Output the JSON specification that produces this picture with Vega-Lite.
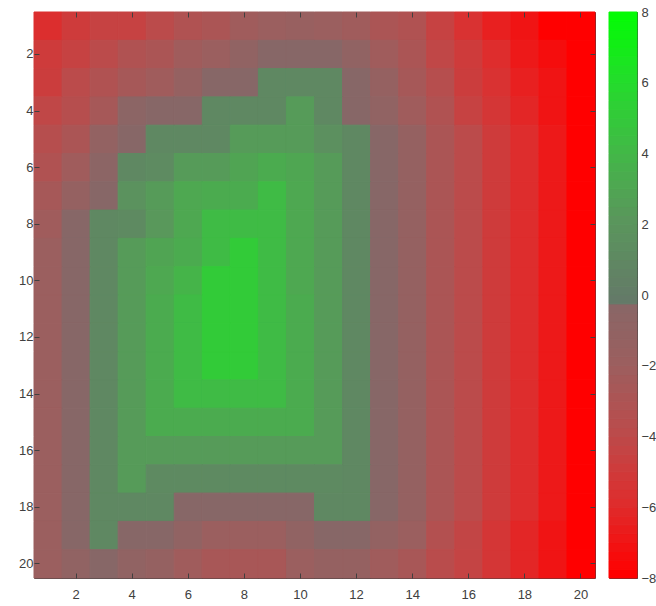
{
"$schema": "https://vega.github.io/schema/vega-lite/v6.json",
"padding": {"left": 18, "top": 5, "right": 0, "bottom": 0},
"background": "white",
"spacing": 12,
"config": {
  "view": {"stroke": "#404040", "strokeWidth": 1},
  "axis": {"domain": false, "grid": false, "ticks": true, "tickSize": -5, "tickColor": "#404040", "tickWidth": 1, "labelColor": "#404040", "labelFont": "Liberation Sans", "labelFontSize": 13, "title": null}
},
"datasets": {
"grid": [
{"r":1,"c":1,"v":-5.9},{"r":1,"c":2,"v":-5.1},{"r":1,"c":3,"v":-4.6},{"r":1,"c":4,"v":-4.6},{"r":1,"c":5,"v":-4.0},{"r":1,"c":6,"v":-3.3},{"r":1,"c":7,"v":-3.0},{"r":1,"c":8,"v":-2.3},{"r":1,"c":9,"v":-2.0},{"r":1,"c":10,"v":-1.7},{"r":1,"c":11,"v":-2.0},{"r":1,"c":12,"v":-2.3},{"r":1,"c":13,"v":-3.0},{"r":1,"c":14,"v":-3.3},{"r":1,"c":15,"v":-4.6},{"r":1,"c":16,"v":-5.7},{"r":1,"c":17,"v":-6.6},{"r":1,"c":18,"v":-7.1},{"r":1,"c":19,"v":-8},{"r":1,"c":20,"v":-8},
{"r":2,"c":1,"v":-5.1},{"r":2,"c":2,"v":-4.6},{"r":2,"c":3,"v":-4.0},{"r":2,"c":4,"v":-3.3},{"r":2,"c":5,"v":-3.0},{"r":2,"c":6,"v":-2.3},{"r":2,"c":7,"v":-2.0},{"r":2,"c":8,"v":-1.1},{"r":2,"c":9,"v":-0.3},{"r":2,"c":10,"v":-0.3},{"r":2,"c":11,"v":-0.3},{"r":2,"c":12,"v":-1.1},{"r":2,"c":13,"v":-2.3},{"r":2,"c":14,"v":-3.0},{"r":2,"c":15,"v":-4.3},{"r":2,"c":16,"v":-5.1},{"r":2,"c":17,"v":-6.0},{"r":2,"c":18,"v":-6.9},{"r":2,"c":19,"v":-7.4},{"r":2,"c":20,"v":-8},
{"r":3,"c":1,"v":-4.9},{"r":3,"c":2,"v":-4.0},{"r":3,"c":3,"v":-3.3},{"r":3,"c":4,"v":-2.7},{"r":3,"c":5,"v":-2.3},{"r":3,"c":6,"v":-1.5},{"r":3,"c":7,"v":-0.3},{"r":3,"c":8,"v":-0.3},{"r":3,"c":9,"v":0.9},{"r":3,"c":10,"v":0.9},{"r":3,"c":11,"v":0.9},{"r":3,"c":12,"v":-0.3},{"r":3,"c":13,"v":-1.5},{"r":3,"c":14,"v":-2.7},{"r":3,"c":15,"v":-3.7},{"r":3,"c":16,"v":-4.9},{"r":3,"c":17,"v":-5.7},{"r":3,"c":18,"v":-6.6},{"r":3,"c":19,"v":-7.1},{"r":3,"c":20,"v":-8},
{"r":4,"c":1,"v":-4.3},{"r":4,"c":2,"v":-3.7},{"r":4,"c":3,"v":-2.7},{"r":4,"c":4,"v":-0.7},{"r":4,"c":5,"v":-0.3},{"r":4,"c":6,"v":-0.3},{"r":4,"c":7,"v":0.9},{"r":4,"c":8,"v":0.9},{"r":4,"c":9,"v":0.9},{"r":4,"c":10,"v":2.3},{"r":4,"c":11,"v":0.9},{"r":4,"c":12,"v":-0.3},{"r":4,"c":13,"v":-1.1},{"r":4,"c":14,"v":-2.3},{"r":4,"c":15,"v":-3.3},{"r":4,"c":16,"v":-4.6},{"r":4,"c":17,"v":-5.4},{"r":4,"c":18,"v":-6.3},{"r":4,"c":19,"v":-7.1},{"r":4,"c":20,"v":-8},
{"r":5,"c":1,"v":-3.7},{"r":5,"c":2,"v":-3.0},{"r":5,"c":3,"v":-1.3},{"r":5,"c":4,"v":-0.3},{"r":5,"c":5,"v":0.9},{"r":5,"c":6,"v":0.9},{"r":5,"c":7,"v":0.9},{"r":5,"c":8,"v":2.3},{"r":5,"c":9,"v":2.3},{"r":5,"c":10,"v":2.3},{"r":5,"c":11,"v":1.5},{"r":5,"c":12,"v":0.9},{"r":5,"c":13,"v":-0.3},{"r":5,"c":14,"v":-1.5},{"r":5,"c":15,"v":-3.0},{"r":5,"c":16,"v":-4.0},{"r":5,"c":17,"v":-5.1},{"r":5,"c":18,"v":-6.0},{"r":5,"c":19,"v":-6.9},{"r":5,"c":20,"v":-8},
{"r":6,"c":1,"v":-3.3},{"r":6,"c":2,"v":-2.3},{"r":6,"c":3,"v":-0.7},{"r":6,"c":4,"v":0.9},{"r":6,"c":5,"v":1.1},{"r":6,"c":6,"v":2.3},{"r":6,"c":7,"v":2.3},{"r":6,"c":8,"v":2.8},{"r":6,"c":9,"v":3.2},{"r":6,"c":10,"v":2.9},{"r":6,"c":11,"v":2.3},{"r":6,"c":12,"v":0.9},{"r":6,"c":13,"v":-0.3},{"r":6,"c":14,"v":-1.5},{"r":6,"c":15,"v":-3.0},{"r":6,"c":16,"v":-4.0},{"r":6,"c":17,"v":-5.1},{"r":6,"c":18,"v":-6.0},{"r":6,"c":19,"v":-6.9},{"r":6,"c":20,"v":-8},
{"r":7,"c":1,"v":-2.7},{"r":7,"c":2,"v":-1.5},{"r":7,"c":3,"v":-0.3},{"r":7,"c":4,"v":1.7},{"r":7,"c":5,"v":2.3},{"r":7,"c":6,"v":3.0},{"r":7,"c":7,"v":3.2},{"r":7,"c":8,"v":3.2},{"r":7,"c":9,"v":4.1},{"r":7,"c":10,"v":3.0},{"r":7,"c":11,"v":2.3},{"r":7,"c":12,"v":0.9},{"r":7,"c":13,"v":-0.3},{"r":7,"c":14,"v":-1.5},{"r":7,"c":15,"v":-3.0},{"r":7,"c":16,"v":-4.0},{"r":7,"c":17,"v":-5.1},{"r":7,"c":18,"v":-6.0},{"r":7,"c":19,"v":-6.9},{"r":7,"c":20,"v":-8},
{"r":8,"c":1,"v":-2.3},{"r":8,"c":2,"v":-0.3},{"r":8,"c":3,"v":0.9},{"r":8,"c":4,"v":1.0},{"r":8,"c":5,"v":2.1},{"r":8,"c":6,"v":3.0},{"r":8,"c":7,"v":4.1},{"r":8,"c":8,"v":4.1},{"r":8,"c":9,"v":4.1},{"r":8,"c":10,"v":3.0},{"r":8,"c":11,"v":2.3},{"r":8,"c":12,"v":0.9},{"r":8,"c":13,"v":-0.3},{"r":8,"c":14,"v":-1.5},{"r":8,"c":15,"v":-3.0},{"r":8,"c":16,"v":-4.0},{"r":8,"c":17,"v":-5.1},{"r":8,"c":18,"v":-6.0},{"r":8,"c":19,"v":-6.9},{"r":8,"c":20,"v":-8},
{"r":9,"c":1,"v":-2.0},{"r":9,"c":2,"v":-0.3},{"r":9,"c":3,"v":0.9},{"r":9,"c":4,"v":2.3},{"r":9,"c":5,"v":2.8},{"r":9,"c":6,"v":3.2},{"r":9,"c":7,"v":4.1},{"r":9,"c":8,"v":5.0},{"r":9,"c":9,"v":4.1},{"r":9,"c":10,"v":3.0},{"r":9,"c":11,"v":2.3},{"r":9,"c":12,"v":0.9},{"r":9,"c":13,"v":-0.3},{"r":9,"c":14,"v":-1.5},{"r":9,"c":15,"v":-3.0},{"r":9,"c":16,"v":-4.0},{"r":9,"c":17,"v":-5.1},{"r":9,"c":18,"v":-6.0},{"r":9,"c":19,"v":-6.9},{"r":9,"c":20,"v":-8},
{"r":10,"c":1,"v":-2.0},{"r":10,"c":2,"v":-0.3},{"r":10,"c":3,"v":0.9},{"r":10,"c":4,"v":2.3},{"r":10,"c":5,"v":3.0},{"r":10,"c":6,"v":3.7},{"r":10,"c":7,"v":5.0},{"r":10,"c":8,"v":5.0},{"r":10,"c":9,"v":4.1},{"r":10,"c":10,"v":3.0},{"r":10,"c":11,"v":2.3},{"r":10,"c":12,"v":0.9},{"r":10,"c":13,"v":-0.3},{"r":10,"c":14,"v":-1.5},{"r":10,"c":15,"v":-3.0},{"r":10,"c":16,"v":-4.0},{"r":10,"c":17,"v":-5.1},{"r":10,"c":18,"v":-6.0},{"r":10,"c":19,"v":-6.9},{"r":10,"c":20,"v":-8},
{"r":11,"c":1,"v":-2.0},{"r":11,"c":2,"v":-0.3},{"r":11,"c":3,"v":0.9},{"r":11,"c":4,"v":2.3},{"r":11,"c":5,"v":3.2},{"r":11,"c":6,"v":4.1},{"r":11,"c":7,"v":5.0},{"r":11,"c":8,"v":5.0},{"r":11,"c":9,"v":4.1},{"r":11,"c":10,"v":3.2},{"r":11,"c":11,"v":2.3},{"r":11,"c":12,"v":0.9},{"r":11,"c":13,"v":-0.3},{"r":11,"c":14,"v":-1.5},{"r":11,"c":15,"v":-3.0},{"r":11,"c":16,"v":-4.0},{"r":11,"c":17,"v":-5.1},{"r":11,"c":18,"v":-6.0},{"r":11,"c":19,"v":-6.9},{"r":11,"c":20,"v":-8},
{"r":12,"c":1,"v":-2.0},{"r":12,"c":2,"v":-0.3},{"r":12,"c":3,"v":0.9},{"r":12,"c":4,"v":2.3},{"r":12,"c":5,"v":3.2},{"r":12,"c":6,"v":4.1},{"r":12,"c":7,"v":5.0},{"r":12,"c":8,"v":5.0},{"r":12,"c":9,"v":4.1},{"r":12,"c":10,"v":3.2},{"r":12,"c":11,"v":2.3},{"r":12,"c":12,"v":0.9},{"r":12,"c":13,"v":-0.3},{"r":12,"c":14,"v":-1.5},{"r":12,"c":15,"v":-3.0},{"r":12,"c":16,"v":-4.0},{"r":12,"c":17,"v":-5.1},{"r":12,"c":18,"v":-6.0},{"r":12,"c":19,"v":-6.9},{"r":12,"c":20,"v":-8},
{"r":13,"c":1,"v":-2.0},{"r":13,"c":2,"v":-0.3},{"r":13,"c":3,"v":0.9},{"r":13,"c":4,"v":2.3},{"r":13,"c":5,"v":3.2},{"r":13,"c":6,"v":4.1},{"r":13,"c":7,"v":5.0},{"r":13,"c":8,"v":5.0},{"r":13,"c":9,"v":4.1},{"r":13,"c":10,"v":3.2},{"r":13,"c":11,"v":2.3},{"r":13,"c":12,"v":0.9},{"r":13,"c":13,"v":-0.3},{"r":13,"c":14,"v":-1.5},{"r":13,"c":15,"v":-3.0},{"r":13,"c":16,"v":-4.0},{"r":13,"c":17,"v":-5.1},{"r":13,"c":18,"v":-6.0},{"r":13,"c":19,"v":-6.9},{"r":13,"c":20,"v":-8},
{"r":14,"c":1,"v":-2.0},{"r":14,"c":2,"v":-0.3},{"r":14,"c":3,"v":0.9},{"r":14,"c":4,"v":2.3},{"r":14,"c":5,"v":3.2},{"r":14,"c":6,"v":4.1},{"r":14,"c":7,"v":4.1},{"r":14,"c":8,"v":4.1},{"r":14,"c":9,"v":4.1},{"r":14,"c":10,"v":3.2},{"r":14,"c":11,"v":2.3},{"r":14,"c":12,"v":0.9},{"r":14,"c":13,"v":-0.3},{"r":14,"c":14,"v":-1.5},{"r":14,"c":15,"v":-3.0},{"r":14,"c":16,"v":-4.0},{"r":14,"c":17,"v":-5.1},{"r":14,"c":18,"v":-6.0},{"r":14,"c":19,"v":-6.9},{"r":14,"c":20,"v":-8},
{"r":15,"c":1,"v":-2.0},{"r":15,"c":2,"v":-0.3},{"r":15,"c":3,"v":0.9},{"r":15,"c":4,"v":2.3},{"r":15,"c":5,"v":3.2},{"r":15,"c":6,"v":3.2},{"r":15,"c":7,"v":3.2},{"r":15,"c":8,"v":3.2},{"r":15,"c":9,"v":3.2},{"r":15,"c":10,"v":3.2},{"r":15,"c":11,"v":2.3},{"r":15,"c":12,"v":0.9},{"r":15,"c":13,"v":-0.3},{"r":15,"c":14,"v":-1.5},{"r":15,"c":15,"v":-3.0},{"r":15,"c":16,"v":-4.0},{"r":15,"c":17,"v":-5.1},{"r":15,"c":18,"v":-6.0},{"r":15,"c":19,"v":-6.9},{"r":15,"c":20,"v":-8},
{"r":16,"c":1,"v":-2.0},{"r":16,"c":2,"v":-0.3},{"r":16,"c":3,"v":0.9},{"r":16,"c":4,"v":2.3},{"r":16,"c":5,"v":2.3},{"r":16,"c":6,"v":2.3},{"r":16,"c":7,"v":2.3},{"r":16,"c":8,"v":2.3},{"r":16,"c":9,"v":2.3},{"r":16,"c":10,"v":2.3},{"r":16,"c":11,"v":2.3},{"r":16,"c":12,"v":0.9},{"r":16,"c":13,"v":-0.3},{"r":16,"c":14,"v":-1.5},{"r":16,"c":15,"v":-3.0},{"r":16,"c":16,"v":-4.0},{"r":16,"c":17,"v":-5.1},{"r":16,"c":18,"v":-6.0},{"r":16,"c":19,"v":-6.9},{"r":16,"c":20,"v":-8},
{"r":17,"c":1,"v":-2.0},{"r":17,"c":2,"v":-0.3},{"r":17,"c":3,"v":0.9},{"r":17,"c":4,"v":2.3},{"r":17,"c":5,"v":1.0},{"r":17,"c":6,"v":1.0},{"r":17,"c":7,"v":1.0},{"r":17,"c":8,"v":1.0},{"r":17,"c":9,"v":1.0},{"r":17,"c":10,"v":1.0},{"r":17,"c":11,"v":1.0},{"r":17,"c":12,"v":0.9},{"r":17,"c":13,"v":-0.3},{"r":17,"c":14,"v":-1.5},{"r":17,"c":15,"v":-3.0},{"r":17,"c":16,"v":-4.0},{"r":17,"c":17,"v":-5.1},{"r":17,"c":18,"v":-6.0},{"r":17,"c":19,"v":-6.9},{"r":17,"c":20,"v":-8},
{"r":18,"c":1,"v":-2.0},{"r":18,"c":2,"v":-0.3},{"r":18,"c":3,"v":0.9},{"r":18,"c":4,"v":0.9},{"r":18,"c":5,"v":0.9},{"r":18,"c":6,"v":-0.3},{"r":18,"c":7,"v":-0.3},{"r":18,"c":8,"v":-0.3},{"r":18,"c":9,"v":-0.3},{"r":18,"c":10,"v":-0.3},{"r":18,"c":11,"v":0.9},{"r":18,"c":12,"v":0.9},{"r":18,"c":13,"v":-0.3},{"r":18,"c":14,"v":-1.5},{"r":18,"c":15,"v":-3.0},{"r":18,"c":16,"v":-4.0},{"r":18,"c":17,"v":-5.1},{"r":18,"c":18,"v":-6.0},{"r":18,"c":19,"v":-6.9},{"r":18,"c":20,"v":-8},
{"r":19,"c":1,"v":-2.0},{"r":19,"c":2,"v":-0.3},{"r":19,"c":3,"v":0.9},{"r":19,"c":4,"v":-0.3},{"r":19,"c":5,"v":-0.3},{"r":19,"c":6,"v":-1.1},{"r":19,"c":7,"v":-2.0},{"r":19,"c":8,"v":-2.0},{"r":19,"c":9,"v":-2.0},{"r":19,"c":10,"v":-1.1},{"r":19,"c":11,"v":-0.3},{"r":19,"c":12,"v":-0.3},{"r":19,"c":13,"v":-1.3},{"r":19,"c":14,"v":-2.0},{"r":19,"c":15,"v":-3.5},{"r":19,"c":16,"v":-4.4},{"r":19,"c":17,"v":-5.4},{"r":19,"c":18,"v":-6.3},{"r":19,"c":19,"v":-7.1},{"r":19,"c":20,"v":-8},
{"r":20,"c":1,"v":-2.0},{"r":20,"c":2,"v":-1.1},{"r":20,"c":3,"v":-0.3},{"r":20,"c":4,"v":-1.1},{"r":20,"c":5,"v":-1.5},{"r":20,"c":6,"v":-2.3},{"r":20,"c":7,"v":-2.8},{"r":20,"c":8,"v":-2.8},{"r":20,"c":9,"v":-2.8},{"r":20,"c":10,"v":-2.0},{"r":20,"c":11,"v":-1.5},{"r":20,"c":12,"v":-1.5},{"r":20,"c":13,"v":-2.3},{"r":20,"c":14,"v":-2.8},{"r":20,"c":15,"v":-3.9},{"r":20,"c":16,"v":-4.5},{"r":20,"c":17,"v":-5.4},{"r":20,"c":18,"v":-6.3},{"r":20,"c":19,"v":-7.1},{"r":20,"c":20,"v":-8}
],
"cbar": [
{"lo":-8,"hi":-7.75},{"lo":-7.75,"hi":-7.5},{"lo":-7.5,"hi":-7.25},{"lo":-7.25,"hi":-7},{"lo":-7,"hi":-6.75},{"lo":-6.75,"hi":-6.5},{"lo":-6.5,"hi":-6.25},{"lo":-6.25,"hi":-6},
{"lo":-6,"hi":-5.75},{"lo":-5.75,"hi":-5.5},{"lo":-5.5,"hi":-5.25},{"lo":-5.25,"hi":-5},{"lo":-5,"hi":-4.75},{"lo":-4.75,"hi":-4.5},{"lo":-4.5,"hi":-4.25},{"lo":-4.25,"hi":-4},
{"lo":-4,"hi":-3.75},{"lo":-3.75,"hi":-3.5},{"lo":-3.5,"hi":-3.25},{"lo":-3.25,"hi":-3},{"lo":-3,"hi":-2.75},{"lo":-2.75,"hi":-2.5},{"lo":-2.5,"hi":-2.25},{"lo":-2.25,"hi":-2},
{"lo":-2,"hi":-1.75},{"lo":-1.75,"hi":-1.5},{"lo":-1.5,"hi":-1.25},{"lo":-1.25,"hi":-1},{"lo":-1,"hi":-0.75},{"lo":-0.75,"hi":-0.5},{"lo":-0.5,"hi":-0.25},{"lo":-0.25,"hi":0},
{"lo":0,"hi":0.25},{"lo":0.25,"hi":0.5},{"lo":0.5,"hi":0.75},{"lo":0.75,"hi":1},{"lo":1,"hi":1.25},{"lo":1.25,"hi":1.5},{"lo":1.5,"hi":1.75},{"lo":1.75,"hi":2},
{"lo":2,"hi":2.25},{"lo":2.25,"hi":2.5},{"lo":2.5,"hi":2.75},{"lo":2.75,"hi":3},{"lo":3,"hi":3.25},{"lo":3.25,"hi":3.5},{"lo":3.5,"hi":3.75},{"lo":3.75,"hi":4},
{"lo":4,"hi":4.25},{"lo":4.25,"hi":4.5},{"lo":4.5,"hi":4.75},{"lo":4.75,"hi":5},{"lo":5,"hi":5.25},{"lo":5.25,"hi":5.5},{"lo":5.5,"hi":5.75},{"lo":5.75,"hi":6},
{"lo":6,"hi":6.25},{"lo":6.25,"hi":6.5},{"lo":6.5,"hi":6.75},{"lo":6.75,"hi":7},{"lo":7,"hi":7.25},{"lo":7.25,"hi":7.5},{"lo":7.5,"hi":7.75},{"lo":7.75,"hi":8}
]
},
"hconcat": [
{
  "width": 561, "height": 566,
  "data": {"name": "grid"},
  "layer": [
    {
      "mark": {"type": "rect", "strokeWidth": 1},
      "encoding": {
        "x": {"field": "c", "type": "ordinal", "axis": {"values": [2,4,6,8,10,12,14,16,18,20], "labelAngle": 0, "labelPadding": 15}},
        "y": {"field": "r", "type": "ordinal", "axis": {"values": [2,4,6,8,10,12,14,16,18,20], "labelPadding": 6}},
        "color": {"field": "v", "type": "quantitative", "legend": null,
          "scale": {"domain": [-8,-6,-4,-2,-0.26,-0.25,2,4,6,8], "range": ["#ff0000","#de2d2d","#bb4b4b","#9b5f5f","#876767","#647a68","#5a965c","#41b946","#22dd2a","#00ff00"], "interpolate": "rgb"}},
        "stroke": {"field": "v", "type": "quantitative", "legend": null,
          "scale": {"domain": [-8,-6,-4,-2,-0.26,-0.25,2,4,6,8], "range": ["#ff0000","#de2d2d","#bb4b4b","#9b5f5f","#876767","#647a68","#5a965c","#41b946","#22dd2a","#00ff00"], "interpolate": "rgb"}}
      }
    },
    {
      "mark": {"type": "rect", "opacity": 0},
      "encoding": {
        "x": {"field": "c", "type": "ordinal", "axis": {"orient": "top", "labels": false, "values": [2,4,6,8,10,12,14,16,18,20]}},
        "y": {"field": "r", "type": "ordinal", "axis": {"orient": "right", "labels": false, "values": [2,4,6,8,10,12,14,16,18,20]}}
      }
    }
  ],
  "resolve": {"axis": {"x": "independent", "y": "independent"}}
},
{
  "width": 28, "height": 566,
  "data": {"name": "cbar"},
  "mark": {"type": "rect", "strokeWidth": 1},
  "encoding": {
    "y": {"field": "lo", "type": "quantitative", "scale": {"domain": [-8, 8], "nice": false, "zero": false}, "axis": {"orient": "right", "values": [-8,-6,-4,-2,0,2,4,6,8], "labelPadding": 9}},
    "y2": {"field": "hi"},
    "color": {"field": "lo", "type": "quantitative", "legend": null,
      "scale": {"domain": [-8,-6,-4,-2,-0.26,-0.25,2,4,6,8], "range": ["#ff0000","#de2d2d","#bb4b4b","#9b5f5f","#876767","#647a68","#5a965c","#41b946","#22dd2a","#00ff00"], "interpolate": "rgb"}},
    "stroke": {"field": "lo", "type": "quantitative", "legend": null,
      "scale": {"domain": [-8,-6,-4,-2,-0.26,-0.25,2,4,6,8], "range": ["#ff0000","#de2d2d","#bb4b4b","#9b5f5f","#876767","#647a68","#5a965c","#41b946","#22dd2a","#00ff00"], "interpolate": "rgb"}}
  }
}
]
}
